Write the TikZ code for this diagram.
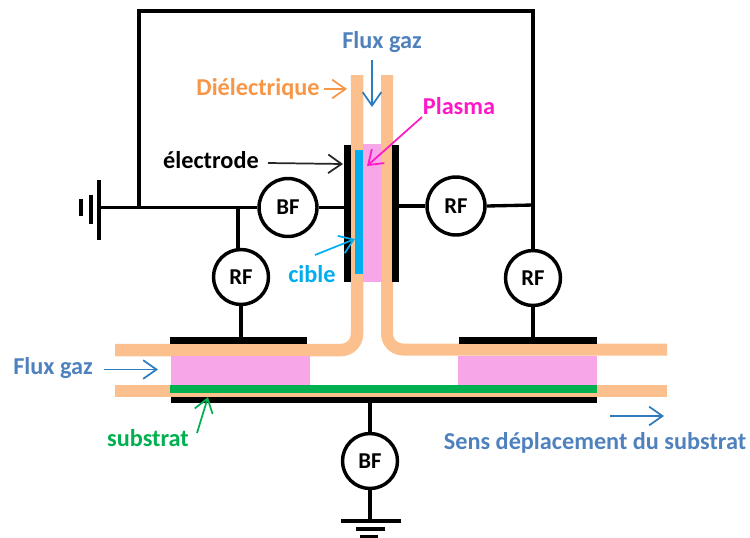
\documentclass[tikz,border=0pt]{standalone}
\usepackage{fontspec}
\setmainfont{Carlito}
\usetikzlibrary{arrows.meta}
\definecolor{diel}{HTML}{FBC08E}
\definecolor{plasmafill}{HTML}{F7A6E8}
\definecolor{plasmatxt}{HTML}{FF19C6}
\definecolor{greensub}{HTML}{00B050}
\definecolor{ciblec}{HTML}{00AEEF}
\definecolor{fluxtxt}{HTML}{4F81BD}
\definecolor{fluxarr}{HTML}{2E7CC0}
\definecolor{dieltxt}{HTML}{F79646}
\def\px{0.75pt}
\tikzset{
  wire/.style={line width=2.5pt,black},
  source/.style={circle,draw=black,line width=2.6pt,fill=white,minimum size=55*\px,inner sep=0pt,font=\fontsize{17}{20}\selectfont\bfseries},
  big/.style={minimum size=58*\px},
  plate/.style={fill=black,inner sep=0pt,outer sep=0pt},
  plasmabox/.style={fill=plasmafill,inner sep=0pt,outer sep=0pt},
  tube/.style={draw=diel,line cap=butt,line join=round},
  lab/.style={font=\fontsize{18.2}{21}\selectfont\bfseries,inner sep=0pt},
  note/.style={line width=1.3pt,-{Straight Barb[length=10pt,width=14pt,line width=1.3pt]}},
}
\begin{document}
\begin{tikzpicture}[x=0.75pt,y=-0.75pt]
\useasboundingbox (0,0) rectangle (750,537);
% dielectric tubes
\draw[tube,line width=12.5*\px,rounded corners=12pt] (357,75) -- (357,350) -- (115,350);
\draw[tube,line width=12*\px,rounded corners=12pt] (387,75) -- (387,349.5) -- (667,349.5);
\draw[tube,line width=12.5*\px] (115,391) -- (667,391);
% plasma
\node[plasmabox,minimum width=19*\px,minimum height=138*\px] (plasmaC) at (372.5,213) {};
\node[plasmabox,minimum width=139*\px,minimum height=29*\px] (plasmaL) at (240.5,370.5) {};
\node[plasmabox,minimum width=139*\px,minimum height=29*\px] (plasmaR) at (527.5,370.5) {};
% target, substrate
\node[fill=ciblec,inner sep=0pt,minimum width=8*\px,minimum height=124*\px] (cibleB) at (359,212) {};
\node[fill=greensub,inner sep=0pt,minimum width=427*\px,minimum height=8*\px] (subB) at (383.5,389) {};
% electrodes
\node[plate,minimum width=7*\px,minimum height=137*\px] (elL) at (347.5,213.5) {};
\node[plate,minimum width=7*\px,minimum height=137*\px] (elR) at (395.5,213.5) {};
\node[plate,minimum width=137*\px,minimum height=7*\px] (topL) at (238.5,340.5) {};
\node[plate,minimum width=138*\px,minimum height=7*\px] (topR) at (528,340) {};
\node[plate,minimum width=426*\px,minimum height=6*\px] (botE) at (384,400) {};
% sources
\node[source,big] (bfA) at (288,207.5) {BF};
\node[source] (rfA) at (241,277) {RF};
\node[source,big] (rfB) at (456,206) {RF};
\node[source] (rfC) at (533,278) {RF};
\node[source] (bfB) at (370,461) {BF};
% wires
\coordinate (gndA) at (99,207.5);
\coordinate (tapA) at (139,207.5);
\coordinate (tapB) at (238,207.5);
\coordinate (tl) at (139,11);
\coordinate (tr) at (533,11);
\coordinate (tapC) at (533,205);
\coordinate (gndB) at (370,521);
\draw[wire] (gndA) -- (bfA.west);
\draw[wire] (bfA.east) -- (elL.west |- bfA);
\draw[wire] (elR.east |- rfB) -- (rfB.west);
\draw[wire] (rfB.east) -- (tapC);
\draw[wire,line join=miter] (tapA) -- (tl) -- (tr) -- (rfC.north);
\draw[wire] (tapB) -- (tapB |- rfA.north);
\draw[wire] (rfA.south) -- (rfA.south |- topL.north);
\draw[wire] (rfC.south) -- (rfC.south |- topR.north);
\draw[wire] (botE.south -| bfB) -- (bfB.north);
\draw[wire] (bfB.south) -- (gndB);
% ground symbols
\draw[wire] (99,180) -- (99,240);
\draw[wire] (91,195) -- (91,224);
\draw[wire] (81,199) -- (81,216);
\draw[wire] (341,521) -- (401,521);
\draw[wire] (356,529) -- (385,529);
\draw[wire] (360,536.5) -- (378,536.5);
% labels
\node[lab,text=fluxtxt] (lFluxT) at (382,42) {Flux gaz};
\node[lab,text=dieltxt] (lDiel) at (258,89) {Diélectrique};
\node[lab,text=plasmatxt] (lPlasma) at (459,106.5) {Plasma};
\node[lab,text=black] (lElec) at (211,160) {électrode};
\node[lab,text=ciblec] (lCible) at (312,274) {cible};
\node[lab,text=fluxtxt] (lFluxL) at (53,368) {Flux gaz};
\node[lab,text=greensub] (lSub) at (148,438) {substrat};
\node[lab,text=fluxtxt] (lSens) at (595,443) {Sens déplacement du substrat};
% annotation arrows
\coordinate (aFt) at (372,60); \coordinate (aFh) at (372,107);
\coordinate (aDt) at (324,89); \coordinate (aDh) at (347,89);
\coordinate (aPt) at (422,117); \coordinate (aPh) at (367,166);
\coordinate (aEt) at (268,163); \coordinate (aEh) at (343,164);
\coordinate (aCt) at (315,255); \coordinate (aCh) at (355,239);
\coordinate (aLt) at (104,369.5); \coordinate (aLh) at (158,369.5);
\coordinate (aSt) at (197,433); \coordinate (aSh) at (208,397);
\coordinate (aMt) at (610,416); \coordinate (aMh) at (664,416);
\draw[note,fluxarr] (aFt) -- (aFh);
\draw[note,dieltxt] (aDt) -- (aDh);
\draw[note,plasmatxt] (aPt) -- (aPh);
\draw[note,black!85] (aEt) -- (aEh);
\draw[note,ciblec] (aCt) -- (aCh);
\draw[note,fluxarr] (aLt) -- (aLh);
\draw[note,greensub] (aSt) -- (aSh);
\draw[note,fluxarr] (aMt) -- (aMh);
\end{tikzpicture}
\end{document}
